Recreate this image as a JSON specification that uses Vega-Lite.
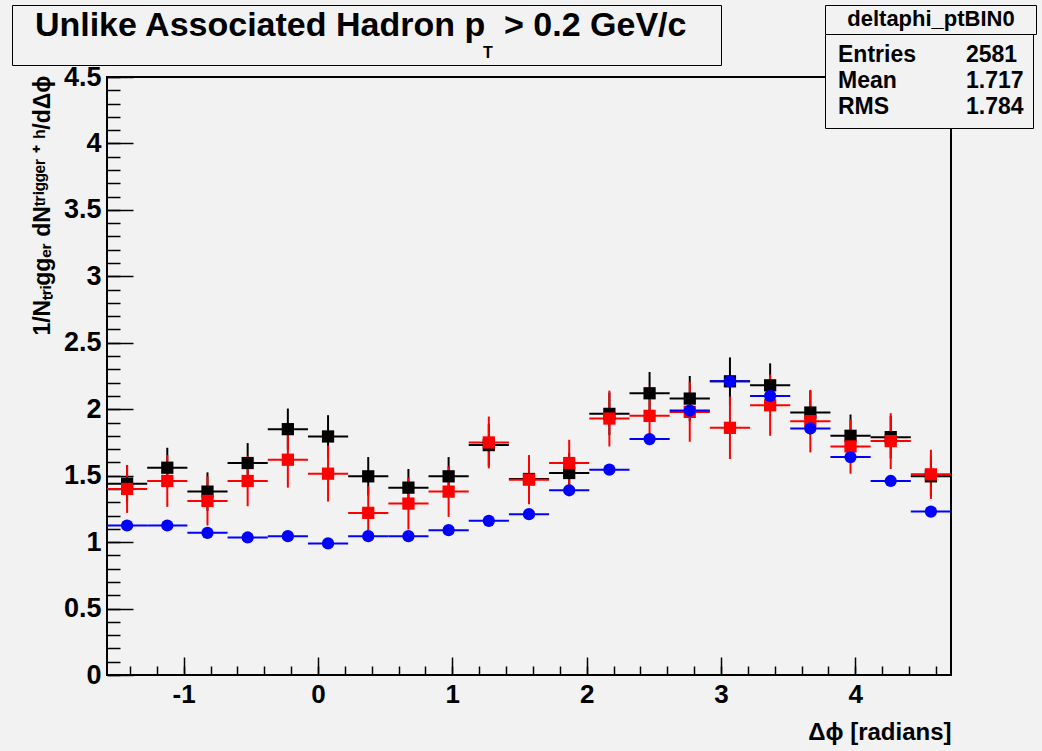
{
  "$schema": "https://vega.github.io/schema/vega-lite/v6.json",
  "width": 844,
  "height": 598,
  "autosize": {"type": "none"},
  "padding": {"left": 107, "top": 77, "right": 91, "bottom": 76},
  "background": "#f2f2f2",
  "config": {
    "font": "Liberation Sans",
    "view": {"stroke": "#000000", "strokeWidth": 2, "fill": "#f2f2f2"},
    "axis": {"grid": false, "domain": false, "tickColor": "#000000", "tickWidth": 1.5, "labelColor": "#000000", "titleColor": "#000000", "labelFont": "Liberation Sans", "titleFont": "Liberation Sans", "labelFontWeight": "bold", "titleFontWeight": "bold", "labelFlush": false},
    "legend": {"symbolOpacity": 0, "symbolSize": 0, "symbolStrokeWidth": 0, "labelColor": "#000000", "titleColor": "#000000", "labelFont": "Liberation Sans", "titleFont": "Liberation Sans", "strokeColor": "#000000", "fillColor": "#f2f2f2", "titleLimit": 2000, "labelLimit": 2000, "orient": "none", "cornerRadius": 0}
  },
  "datasets": {
    "hist": [
      {"s":"s1","phi":-1.4212,"lo":-1.5708,"hi":-1.2716,"y":1.44,"ylo":1.30,"yhi":1.58},
      {"s":"s1","phi":-1.1220,"lo":-1.2716,"hi":-0.9724,"y":1.56,"ylo":1.41,"yhi":1.71},
      {"s":"s1","phi":-0.8228,"lo":-0.9724,"hi":-0.6732,"y":1.38,"ylo":1.235,"yhi":1.525},
      {"s":"s1","phi":-0.5236,"lo":-0.6732,"hi":-0.3740,"y":1.595,"ylo":1.445,"yhi":1.745},
      {"s":"s1","phi":-0.2244,"lo":-0.3740,"hi":-0.0748,"y":1.85,"ylo":1.695,"yhi":2.005},
      {"s":"s1","phi":0.0748,"lo":-0.0748,"hi":0.2244,"y":1.795,"ylo":1.635,"yhi":1.955},
      {"s":"s1","phi":0.3740,"lo":0.2244,"hi":0.5236,"y":1.495,"ylo":1.35,"yhi":1.64},
      {"s":"s1","phi":0.6732,"lo":0.5236,"hi":0.8228,"y":1.41,"ylo":1.27,"yhi":1.55},
      {"s":"s1","phi":0.9724,"lo":0.8228,"hi":1.1220,"y":1.495,"ylo":1.35,"yhi":1.64},
      {"s":"s1","phi":1.2716,"lo":1.1220,"hi":1.4212,"y":1.73,"ylo":1.57,"yhi":1.89},
      {"s":"s1","phi":1.5708,"lo":1.4212,"hi":1.7204,"y":1.475,"ylo":1.325,"yhi":1.625},
      {"s":"s1","phi":1.8700,"lo":1.7204,"hi":2.0196,"y":1.52,"ylo":1.37,"yhi":1.67},
      {"s":"s1","phi":2.1692,"lo":2.0196,"hi":2.3188,"y":1.965,"ylo":1.805,"yhi":2.125},
      {"s":"s1","phi":2.4684,"lo":2.3188,"hi":2.6180,"y":2.12,"ylo":1.96,"yhi":2.28},
      {"s":"s1","phi":2.7676,"lo":2.6180,"hi":2.9172,"y":2.08,"ylo":1.91,"yhi":2.25},
      {"s":"s1","phi":3.0668,"lo":2.9172,"hi":3.2164,"y":2.21,"ylo":2.03,"yhi":2.39},
      {"s":"s1","phi":3.3660,"lo":3.2164,"hi":3.5156,"y":2.18,"ylo":2.015,"yhi":2.345},
      {"s":"s1","phi":3.6652,"lo":3.5156,"hi":3.8148,"y":1.975,"ylo":1.81,"yhi":2.14},
      {"s":"s1","phi":3.9644,"lo":3.8148,"hi":4.1140,"y":1.80,"ylo":1.64,"yhi":1.96},
      {"s":"s1","phi":4.2636,"lo":4.1140,"hi":4.4132,"y":1.79,"ylo":1.63,"yhi":1.95},
      {"s":"s1","phi":4.5628,"lo":4.4132,"hi":4.7124,"y":1.495,"ylo":1.345,"yhi":1.645},
      {"s":"s2","phi":-1.4212,"lo":-1.5708,"hi":-1.2716,"y":1.40,"ylo":1.22,"yhi":1.58},
      {"s":"s2","phi":-1.1220,"lo":-1.2716,"hi":-0.9724,"y":1.46,"ylo":1.265,"yhi":1.655},
      {"s":"s2","phi":-0.8228,"lo":-0.9724,"hi":-0.6732,"y":1.31,"ylo":1.125,"yhi":1.495},
      {"s":"s2","phi":-0.5236,"lo":-0.6732,"hi":-0.3740,"y":1.46,"ylo":1.27,"yhi":1.65},
      {"s":"s2","phi":-0.2244,"lo":-0.3740,"hi":-0.0748,"y":1.62,"ylo":1.41,"yhi":1.83},
      {"s":"s2","phi":0.0748,"lo":-0.0748,"hi":0.2244,"y":1.515,"ylo":1.305,"yhi":1.725},
      {"s":"s2","phi":0.3740,"lo":0.2244,"hi":0.5236,"y":1.22,"ylo":1.02,"yhi":1.42},
      {"s":"s2","phi":0.6732,"lo":0.5236,"hi":0.8228,"y":1.29,"ylo":1.095,"yhi":1.485},
      {"s":"s2","phi":0.9724,"lo":0.8228,"hi":1.1220,"y":1.38,"ylo":1.19,"yhi":1.57},
      {"s":"s2","phi":1.2716,"lo":1.1220,"hi":1.4212,"y":1.75,"ylo":1.555,"yhi":1.945},
      {"s":"s2","phi":1.5708,"lo":1.4212,"hi":1.7204,"y":1.47,"ylo":1.285,"yhi":1.655},
      {"s":"s2","phi":1.8700,"lo":1.7204,"hi":2.0196,"y":1.595,"ylo":1.42,"yhi":1.77},
      {"s":"s2","phi":2.1692,"lo":2.0196,"hi":2.3188,"y":1.93,"ylo":1.72,"yhi":2.14},
      {"s":"s2","phi":2.4684,"lo":2.3188,"hi":2.6180,"y":1.95,"ylo":1.73,"yhi":2.17},
      {"s":"s2","phi":2.7676,"lo":2.6180,"hi":2.9172,"y":1.98,"ylo":1.755,"yhi":2.205},
      {"s":"s2","phi":3.0668,"lo":2.9172,"hi":3.2164,"y":1.86,"ylo":1.625,"yhi":2.095},
      {"s":"s2","phi":3.3660,"lo":3.2164,"hi":3.5156,"y":2.03,"ylo":1.80,"yhi":2.26},
      {"s":"s2","phi":3.6652,"lo":3.5156,"hi":3.8148,"y":1.91,"ylo":1.675,"yhi":2.145},
      {"s":"s2","phi":3.9644,"lo":3.8148,"hi":4.1140,"y":1.72,"ylo":1.515,"yhi":1.925},
      {"s":"s2","phi":4.2636,"lo":4.1140,"hi":4.4132,"y":1.76,"ylo":1.55,"yhi":1.97},
      {"s":"s2","phi":4.5628,"lo":4.4132,"hi":4.7124,"y":1.51,"ylo":1.325,"yhi":1.695},
      {"s":"s3","phi":-1.4212,"lo":-1.5708,"hi":-1.2716,"y":1.125,"ylo":1.09,"yhi":1.16},
      {"s":"s3","phi":-1.1220,"lo":-1.2716,"hi":-0.9724,"y":1.125,"ylo":1.09,"yhi":1.16},
      {"s":"s3","phi":-0.8228,"lo":-0.9724,"hi":-0.6732,"y":1.07,"ylo":1.035,"yhi":1.105},
      {"s":"s3","phi":-0.5236,"lo":-0.6732,"hi":-0.3740,"y":1.035,"ylo":1.0,"yhi":1.07},
      {"s":"s3","phi":-0.2244,"lo":-0.3740,"hi":-0.0748,"y":1.045,"ylo":1.01,"yhi":1.08},
      {"s":"s3","phi":0.0748,"lo":-0.0748,"hi":0.2244,"y":0.99,"ylo":0.955,"yhi":1.025},
      {"s":"s3","phi":0.3740,"lo":0.2244,"hi":0.5236,"y":1.045,"ylo":1.01,"yhi":1.08},
      {"s":"s3","phi":0.6732,"lo":0.5236,"hi":0.8228,"y":1.045,"ylo":1.01,"yhi":1.08},
      {"s":"s3","phi":0.9724,"lo":0.8228,"hi":1.1220,"y":1.09,"ylo":1.055,"yhi":1.125},
      {"s":"s3","phi":1.2716,"lo":1.1220,"hi":1.4212,"y":1.16,"ylo":1.125,"yhi":1.195},
      {"s":"s3","phi":1.5708,"lo":1.4212,"hi":1.7204,"y":1.21,"ylo":1.175,"yhi":1.245},
      {"s":"s3","phi":1.8700,"lo":1.7204,"hi":2.0196,"y":1.39,"ylo":1.355,"yhi":1.425},
      {"s":"s3","phi":2.1692,"lo":2.0196,"hi":2.3188,"y":1.545,"ylo":1.51,"yhi":1.58},
      {"s":"s3","phi":2.4684,"lo":2.3188,"hi":2.6180,"y":1.775,"ylo":1.74,"yhi":1.81},
      {"s":"s3","phi":2.7676,"lo":2.6180,"hi":2.9172,"y":1.99,"ylo":1.955,"yhi":2.025},
      {"s":"s3","phi":3.0668,"lo":2.9172,"hi":3.2164,"y":2.21,"ylo":2.175,"yhi":2.245},
      {"s":"s3","phi":3.3660,"lo":3.2164,"hi":3.5156,"y":2.10,"ylo":2.065,"yhi":2.135},
      {"s":"s3","phi":3.6652,"lo":3.5156,"hi":3.8148,"y":1.855,"ylo":1.82,"yhi":1.89},
      {"s":"s3","phi":3.9644,"lo":3.8148,"hi":4.1140,"y":1.64,"ylo":1.605,"yhi":1.675},
      {"s":"s3","phi":4.2636,"lo":4.1140,"hi":4.4132,"y":1.46,"ylo":1.425,"yhi":1.495},
      {"s":"s3","phi":4.5628,"lo":4.4132,"hi":4.7124,"y":1.23,"ylo":1.195,"yhi":1.265}
    ],
    "stats": [
      {"histogram": "deltaphi_ptBIN0", "name": "Entries", "val": "2581"},
      {"histogram": "deltaphi_ptBIN0", "name": "Mean", "val": "1.717"},
      {"histogram": "deltaphi_ptBIN0", "name": "RMS", "val": "1.784"}
    ]
  },
  "resolve": {"axis": {"x": "independent", "y": "independent"}},
  "layer": [
    {
      "data": {"name": "hist"},
      "mark": {"type": "rule", "strokeWidth": 2},
      "encoding": {
        "x": {"field": "phi", "type": "quantitative",
          "scale": {"domain": [-1.5707963, 4.712389], "nice": false, "zero": false},
          "axis": {"orient": "bottom", "values": [-1, 0, 1, 2, 3, 4], "labelExpr": "'' + datum.value", "tickSize": -18, "labelPadding": 24, "labelFontSize": 26,
            "title": "Δϕ [radians]", "titleFontSize": 24, "titleAnchor": "end", "titleAlign": "right", "titleBaseline": "top", "titleX": 844, "titleY": 45}},
        "y": {"field": "ylo", "type": "quantitative",
          "scale": {"domain": [0, 4.5], "nice": false, "zero": false},
          "axis": {"orient": "left", "values": [0, 0.5, 1, 1.5, 2, 2.5, 3, 3.5, 4, 4.5], "labelExpr": "'' + datum.value", "tickSize": -26, "labelPadding": 32, "labelFontSize": 27,
            "title": "1/Nₜᵣᵢggₑᵣ dNᵗʳⁱᵍᵍᵉʳ ⁺ ʰ/dΔϕ", "titleFontSize": 23, "titleAngle": 270, "titleAlign": "right", "titleBaseline": "alphabetic", "titleX": -58, "titleY": -2}},
        "y2": {"field": "yhi"},
        "color": {"field": "s", "type": "nominal", "scale": {"domain": ["s1", "s2", "s3"], "range": ["#000000", "#ff0000", "#0000ff"]}, "legend": null}
      }
    },
    {
      "data": {"name": "hist"},
      "mark": {"type": "rule", "strokeWidth": 2},
      "encoding": {
        "x": {"field": "lo", "type": "quantitative",
          "scale": {"domain": [-1.5707963, 4.712389], "nice": false, "zero": false},
          "axis": {"orient": "bottom", "values": [-1.4, -1.2, -1, -0.8, -0.6, -0.4, -0.2, 0, 0.2, 0.4, 0.6, 0.8, 1, 1.2, 1.4, 1.6, 1.8, 2, 2.2, 2.4, 2.6, 2.8, 3, 3.2, 3.4, 3.6, 3.8, 4, 4.2, 4.4, 4.6], "tickSize": -9, "labels": false, "title": null}},
        "x2": {"field": "hi"},
        "y": {"field": "y", "type": "quantitative",
          "scale": {"domain": [0, 4.5], "nice": false, "zero": false},
          "axis": {"orient": "left", "values": [0, 0.1, 0.2, 0.3, 0.4, 0.5, 0.6, 0.7, 0.8, 0.9, 1, 1.1, 1.2, 1.3, 1.4, 1.5, 1.6, 1.7, 1.8, 1.9, 2, 2.1, 2.2, 2.3, 2.4, 2.5, 2.6, 2.7, 2.8, 2.9, 3, 3.1, 3.2, 3.3, 3.4, 3.5, 3.6, 3.7, 3.8, 3.9, 4, 4.1, 4.2, 4.3, 4.4, 4.5], "tickSize": -13, "labels": false, "title": null}},
        "color": {"field": "s", "type": "nominal", "legend": null}
      }
    },
    {
      "data": {"name": "hist"},
      "mark": {"type": "point", "filled": true, "opacity": 1, "strokeWidth": 0},
      "encoding": {
        "x": {"field": "phi", "type": "quantitative", "axis": null},
        "y": {"field": "y", "type": "quantitative", "axis": null},
        "color": {"field": "s", "type": "nominal", "legend": null},
        "shape": {"field": "s", "type": "nominal", "scale": {"domain": ["s1", "s2", "s3"], "range": ["square", "square", "circle"]}, "legend": null},
        "size": {"field": "s", "type": "ordinal", "scale": {"domain": ["s1", "s2", "s3"], "range": [150, 150, 95]}, "legend": null}
      }
    },
    {
      "data": {"name": "stats"},
      "mark": {"type": "point", "opacity": 0},
      "encoding": {
        "stroke": {"datum": "T", "type": "nominal",
          "legend": {"orient": "none", "legendX": -95, "legendY": -72, "padding": 4,
            "title": "\u200b\u00a0 Unlike Associated Hadron p\u00a0 > 0.2 GeV/c\u00a0\u00a0\u00a0\u200b",
            "titleFontSize": 34, "titleFontWeight": "bold", "titleAnchor": "start", "titlePadding": -6,
            "labelFontSize": 16, "labelFontWeight": "bold", "labelOffset": 451, "labelBaseline": "top"}}
      }
    },
    {
      "data": {"name": "stats"},
      "mark": {"type": "point", "opacity": 0},
      "encoding": {
        "fill": {"field": "histogram", "type": "nominal",
          "legend": {"orient": "none", "legendX": 718, "legendY": -72, "padding": 4,
            "title": "deltaphi_ptBIN0", "titleFontSize": 22, "titleFontWeight": "bold", "titleAnchor": "middle", "titlePadding": -2,
            "labelExpr": "''", "labelFontSize": 1, "labelOffset": 202}}
      }
    },
    {
      "data": {"name": "stats"},
      "transform": [{"fold": ["name", "val"], "as": ["k", "cell"]}],
      "mark": {"type": "point", "opacity": 0},
      "encoding": {
        "strokeDash": {"field": "cell", "type": "nominal", "sort": null,
          "legend": {"orient": "none", "legendX": 718, "legendY": -43, "padding": 9, "title": null,
            "direction": "horizontal", "columns": 2, "columnPadding": 46, "rowPadding": 2,
            "labelFontSize": 23, "labelFontWeight": "bold", "labelOffset": -19}}
      }
    }
  ]
}
